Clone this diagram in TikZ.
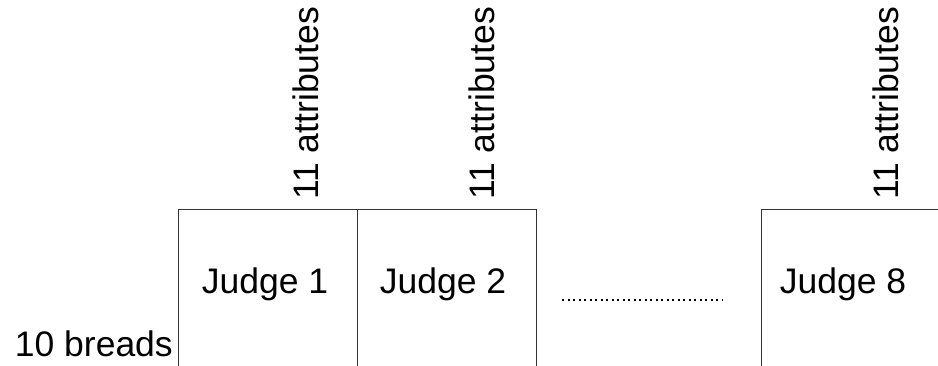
\documentclass[tikz,border=0pt]{standalone}
\usepackage{fontspec}
\setmainfont{Liberation Sans}
\begin{document}
\begin{tikzpicture}[x=1pt,y=-1pt,
  lbl/.style={inner sep=0pt,font=\fontsize{35.5}{40}\selectfont},
  attr/.style={lbl,rotate=90,anchor=base west},
  boxline/.style={draw=black!80,line width=1pt}]
\useasboundingbox (0,0) rectangle (938,366);
% boxes (open at the bottom, running off the picture)
\coordinate (b1bl) at (178,366);
\coordinate (b1tl) at (178,210);
\coordinate (b1tr) at (357,210);
\coordinate (b1br) at (357,366);
\coordinate (b2tr) at (536,210);
\coordinate (b2br) at (536,366);
\coordinate (b8bl) at (761,366);
\coordinate (b8tl) at (761,210);
\coordinate (b8tr) at (940,210);
\draw[boxline] (b1bl) -- (b1tl) -- (b2tr) -- (b2br);
\draw[boxline] (b1tr) -- (b1br);
\draw[boxline] (b8bl) -- (b8tl) -- (b8tr);
% texts
\node[lbl,anchor=base] (j1) at (265,294) {Judge 1};
\node[lbl,anchor=base] (j2) at (443,294) {Judge 2};
\node[lbl,anchor=base] (j8) at (843,294) {Judge 8};
\node[lbl,anchor=base east] (br) at (173,356) {10 breads};
\node[attr] (a1) at (318,200) {11 attributes};
\node[attr] (a2) at (494,200) {11 attributes};
\node[attr] (a8) at (898,200) {11 attributes};
% dotted line
\coordinate (d1) at (562,300);
\coordinate (d2) at (723,300);
\draw[line width=2.2pt,dash pattern=on 2.2pt off 3.3pt] (d1) -- (d2);
\end{tikzpicture}
\end{document}
